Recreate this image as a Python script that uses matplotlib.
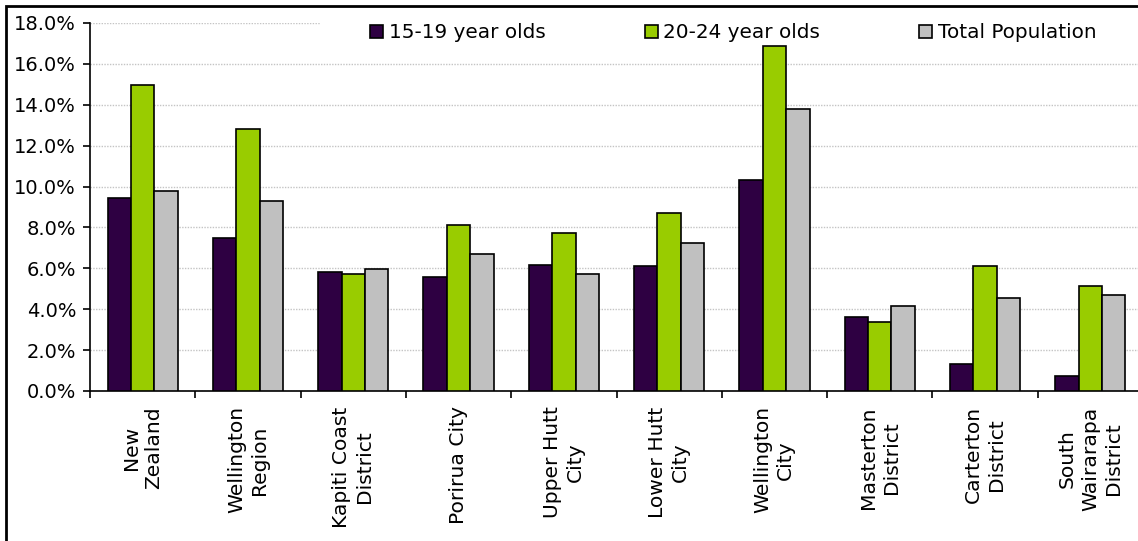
import numpy as np
import matplotlib.pyplot as plt
from matplotlib.ticker import PercentFormatter, FixedLocator
from matplotlib.patches import Rectangle

# Daten (Prozent)
regions = ['New\nZealand', 'Wellington\nRegion', 'Kapiti Coast\nDistrict', 'Porirua City',
           'Upper Hutt\nCity', 'Lower Hutt\nCity', 'Wellington\nCity', 'Masterton\nDistrict',
           'Carterton\nDistrict', 'South\nWairarapa\nDistrict']
age_15_19 = [9.46, 7.48, 5.82, 5.56, 6.15, 6.13, 10.3, 3.64, 1.33, 0.73]
age_20_24 = [14.95, 12.82, 5.71, 8.13, 7.72, 8.7, 16.88, 3.38, 6.13, 5.14]
total_pop = [9.8, 9.3, 5.97, 6.72, 5.72, 7.22, 13.8, 4.15, 4.57, 4.72]
series_names = ['15-19 year olds', '20-24 year olds', 'Total Population']

col_purple = '#2E0042'
col_green = '#99CC00'
col_grey = '#C0C0C0'

plt.rcParams['font.family'] = 'DejaVu Sans'
fs = 14

fig = plt.figure(figsize=(11.38, 5.41), dpi=100)
ax = fig.add_axes([90/1138, 1-391/541, 1053/1138, 368/541])

x = np.arange(len(regions))
w = 0.222
ax.bar(x - w, age_15_19, w, color=col_purple, edgecolor='black', linewidth=1.2, label=series_names[0], zorder=3)
ax.bar(x, age_20_24, w, color=col_green, edgecolor='black', linewidth=1.2, label=series_names[1], zorder=3)
ax.bar(x + w, total_pop, w, color=col_grey, edgecolor='black', linewidth=1.2, label=series_names[2], zorder=3)

ax.set_xlim(-0.5, len(regions) - 0.5)
ax.set_ylim(0, 18)
ax.set_yticks(np.arange(0, 18.1, 2))
ax.yaxis.set_major_formatter(PercentFormatter(decimals=1))
ax.grid(axis='y', color='#C4C4C4', linestyle=(0, (1, 1)), linewidth=1.0, zorder=0)

# Ticks zwischen den Kategorien, Labels in der Mitte
ax.xaxis.set_major_locator(FixedLocator(np.arange(-0.5, len(regions), 1)))
ax.xaxis.set_major_formatter(plt.NullFormatter())
ax.set_xticks(x, minor=True)
ax.set_xticklabels(regions, minor=True, rotation=90, fontsize=14.6, ha='center', va='top',
                   linespacing=1.25)
ax.tick_params(axis='x', which='minor', length=0, pad=11)
ax.tick_params(axis='x', which='major', length=5, width=1.2, direction='out')
ax.tick_params(axis='y', length=5, width=1.2, direction='out', labelsize=fs, pad=5)

for s in ['top', 'right']:
    ax.spines[s].set_visible(False)
for s in ['left', 'bottom']:
    ax.spines[s].set_linewidth(1.2)
    ax.spines[s].set_color('black')

# weisser Hintergrund hinter der Legende (verdeckt obere Gitterlinie)
ax.add_patch(Rectangle((320/1138, 1 - 42/541), 1.0, 28/541, transform=fig.transFigure,
                       facecolor='white', edgecolor='none', clip_on=False, zorder=4))

leg = ax.legend(ncol=3, loc='center left', bbox_to_anchor=(370/1138, 1 - 33/541),
                bbox_transform=fig.transFigure, frameon=False,
                fontsize=14.4, handlelength=0.66, handleheight=0.66, handletextpad=0.28,
                columnspacing=4.95, borderaxespad=0, borderpad=0)
leg.set_zorder(5)

# Rahmen um das Diagramm
fig.patches.append(Rectangle((6/1138, -0.1), 1.2, 1.1 - 6/541, transform=fig.transFigure,
                             fill=False, edgecolor='black', linewidth=2, clip_on=False))

fig.savefig('out.png', dpi=100)
